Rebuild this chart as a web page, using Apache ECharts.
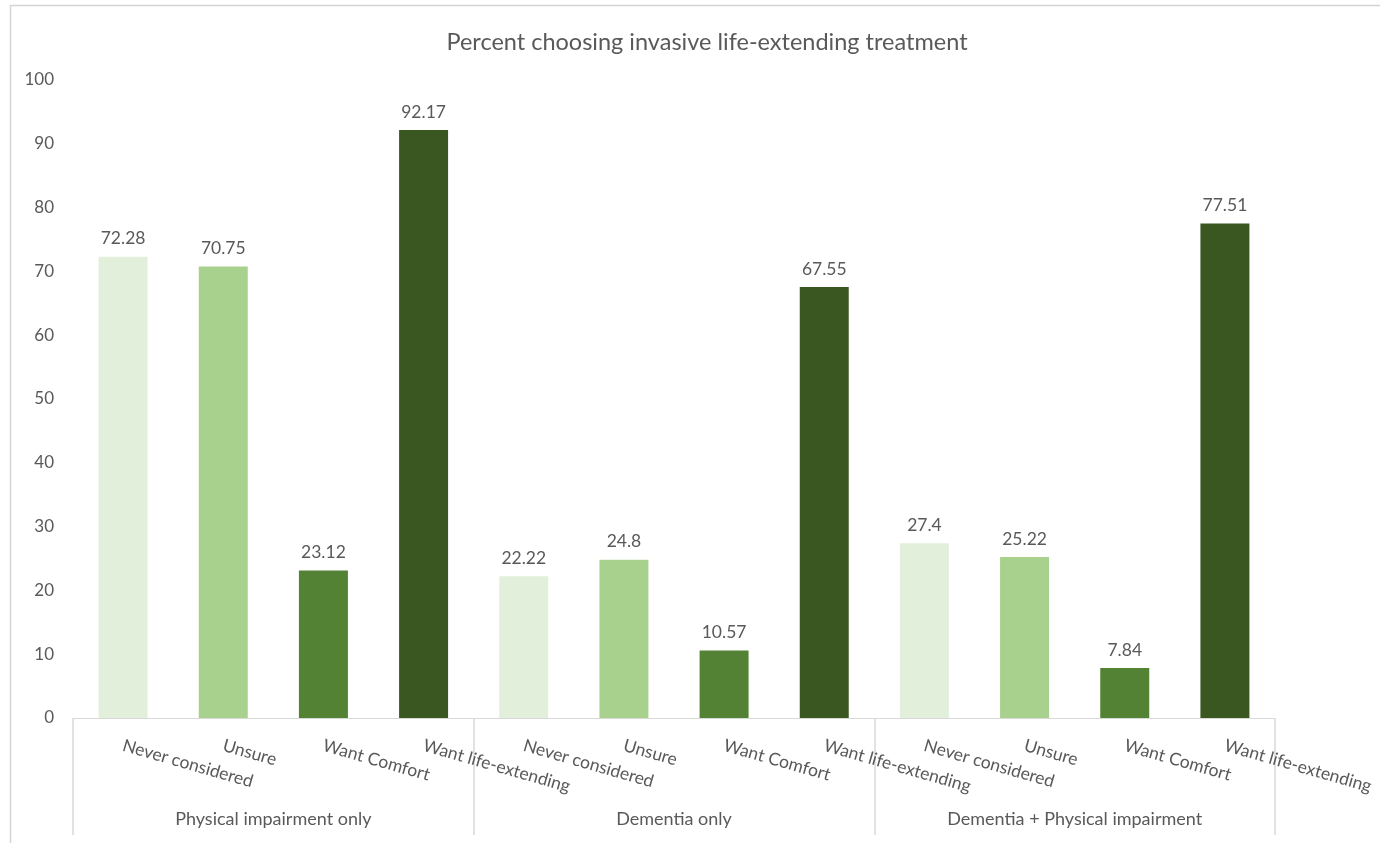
<!DOCTYPE html>
<html>
<head>
<meta charset="utf-8">
<title>Percent choosing invasive life-extending treatment</title>
<script src="https://cdn.jsdelivr.net/npm/echarts@6/dist/echarts.min.js"></script>
<style>
  html, body { margin: 0; padding: 0; background: #ffffff; }
  #chart { width: 1380px; height: 843px; }
</style>
</head>
<body>
<div id="chart"></div>
<script>
// Scenario groups (outer axis level) and response categories (inner level)
const groups = ['Physical impairment only', 'Dementia only', 'Dementia + Physical impairment'];
const responses = ['Never considered', 'Unsure', 'Want Comfort', 'Want life-extending'];

// Percent choosing invasive life-extending treatment, per group
const physicalOnly = [72.28, 70.75, 23.12, 92.17];
const dementiaOnly = [22.22, 24.8, 10.57, 67.55];
const dementiaPhysical = [27.4, 25.22, 7.84, 77.51];

// One colour per response category
const responseColors = ['#e2efda', '#a9d18e', '#548235', '#3a5722'];

const yTicks = { min: 0, max: 100, interval: 10 };

const groupValues = [physicalOnly, dementiaOnly, dementiaPhysical];
const innerCategories = [];
const barData = [];
groupValues.forEach(function (vals, g) {
  vals.forEach(function (v, i) {
    innerCategories.push(responses[i]);
    barData.push({ value: v, itemStyle: { color: responseColors[i] } });
  });
});

const FONT = 'Lato';
const GRAY = '#595959';
const LINE = '#d9d9d9';

const chart = echarts.init(document.getElementById('chart'), null, { renderer: 'canvas' });
chart.setOption({
  backgroundColor: '#ffffff',
  animation: false,
  textStyle: { fontFamily: FONT },
  title: {
    text: 'Percent choosing invasive life-extending treatment',
    left: 702,
    top: 25,
    textAlign: 'center',
    textStyle: { fontFamily: FONT, fontSize: 23.5, fontWeight: 'normal', color: GRAY }
  },
  graphic: [{
    type: 'rect',
    shape: { x: 10.5, y: 5.5, width: 1420, height: 900 },
    style: { fill: 'none', stroke: '#d4d4d4', lineWidth: 1.5 },
    silent: true,
    z: -1
  }],
  grid: { left: 73, right: 105, top: 80, bottom: 125, containLabel: false },
  xAxis: [{
    type: 'category',
    data: innerCategories,
    position: 'bottom',
    axisLine: { show: true, lineStyle: { color: LINE, width: 1 } },
    axisTick: { show: false },
    axisLabel: {
      interval: 0,
      rotate: -16,
      margin: 27,
      fontFamily: FONT,
      fontSize: 17.5,
      color: GRAY
    }
  }, {
    type: 'category',
    data: groups,
    position: 'bottom',
    axisLine: { show: false },
    axisTick: { show: true, length: 117, lineStyle: { color: LINE, width: 1.5 } },
    axisLabel: {
      interval: 0,
      margin: 92,
      fontFamily: FONT,
      fontSize: 18,
      color: GRAY
    },
    splitLine: { show: false }
  }],
  yAxis: {
    type: 'value',
    min: yTicks.min,
    max: yTicks.max,
    interval: yTicks.interval,
    axisLine: { show: false },
    axisTick: { show: false },
    splitLine: { show: false },
    axisLabel: { margin: 19, fontFamily: FONT, fontSize: 17, color: GRAY }
  },
  series: [{
    type: 'bar',
    xAxisIndex: 0,
    data: barData,
    barWidth: 49,
    label: {
      show: true,
      position: 'top',
      distance: 9,
      fontFamily: FONT,
      fontSize: 17.5,
      color: GRAY
    }
  }]
});
</script>
</body>
</html>
